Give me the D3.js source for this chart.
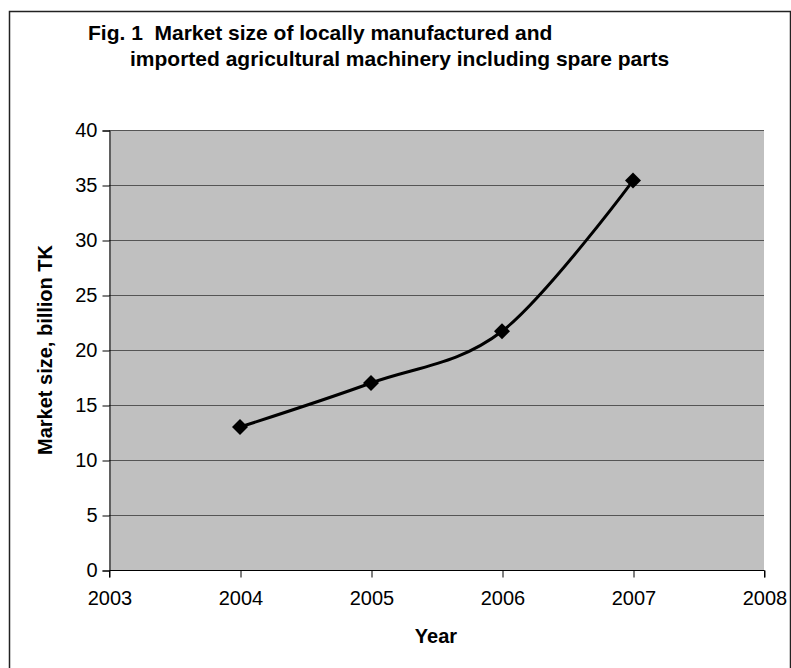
<!DOCTYPE html>
<html lang="en">
<head>
<meta charset="utf-8"/>
<script src="https://d3js.org/d3.v7.min.js"></script>
<style>
  body { margin: 0; background: #fff; }
  text { font-family: Arial, "Liberation Sans", sans-serif; white-space: pre; }
</style>
</head>
<body>
<svg width="791" height="668"></svg>
<script>
// data
const years = [2004, 2005, 2006, 2007];
const marketSize = [13.0, 17.0, 21.7, 35.4];
const xTicks = [2003, 2004, 2005, 2006, 2007, 2008];
const yTicks = [0, 5, 10, 15, 20, 25, 30, 35, 40];
const titleLines = ["Fig. 1  Market size of locally manufactured and",
                    "imported agricultural machinery including spare parts"];

const svg = d3.select("svg");
const plotL = 109, plotR = 764, plotT = 130, plotB = 570;

// outer frame
svg.append("rect")
  .attr("x", 9.5).attr("y", 11.5)
  .attr("width", 781).attr("height", 700)
  .attr("fill", "none").attr("stroke", "#222").attr("stroke-width", 1.5);

const x = d3.scaleLinear().domain([2003, 2008]).range([plotL, plotR]);
const y = d3.scaleLinear().domain([0, 40]).range([plotB, plotT]);

// plot area
svg.append("rect")
  .attr("x", plotL).attr("y", plotT)
  .attr("width", plotR - plotL).attr("height", plotB - plotT)
  .attr("fill", "#c0c0c0");

// grid
svg.append("g").selectAll("line")
  .data(yTicks.filter(d => d > 0))
  .join("line")
  .attr("x1", plotL).attr("x2", plotR)
  .attr("y1", d => y(d) + 0.5).attr("y2", d => y(d) + 0.5)
  .attr("stroke", "#555").attr("stroke-width", 1);

// axes
const yAxis = svg.append("g")
  .attr("transform", `translate(${plotL + 0.5},0.5)`)
  .call(d3.axisLeft(y).tickValues(yTicks).tickSize(7).tickPadding(5));
const xAxis = svg.append("g")
  .attr("transform", `translate(0.5,${plotB + 0.5})`)
  .call(d3.axisBottom(x).tickValues(xTicks).tickFormat(d3.format("d")).tickSize(7).tickPadding(13));

[yAxis, xAxis].forEach(g => {
  g.select(".domain").attr("stroke", "#000");
  g.selectAll(".tick line").attr("stroke", "#000");
  g.selectAll("text").attr("font-size", 20).attr("fill", "#000")
    .style("font-family", "Arial, 'Liberation Sans', sans-serif");
});
xAxis.select(".domain").attr("d", `M${plotL},7V0H${plotR}V7`);

// smoothed line
const pts = years.map((yr, i) => ({x: yr, y: marketSize[i]}));
const line = d3.line()
  .x(d => x(d.x))
  .y(d => y(d.y))
  .curve(d3.curveCardinal.tension(0));

svg.append("path")
  .attr("d", line(pts))
  .attr("fill", "none")
  .attr("stroke", "#000")
  .attr("stroke-width", 3);

svg.append("g").selectAll("path")
  .data(pts)
  .join("path")
  .attr("transform", d => `translate(${x(d.x)},${y(d.y)})`)
  .attr("d", "M0,-8L8,0L0,8L-8,0Z")
  .attr("fill", "#000");

// titles
svg.append("text")
  .attr("x", 88).attr("y", 40)
  .attr("font-size", 21).attr("font-weight", "bold")
  .text(titleLines[0]);
svg.append("text")
  .attr("x", 130).attr("y", 66)
  .attr("font-size", 21).attr("font-weight", "bold")
  .text(titleLines[1]);

svg.append("text")
  .attr("x", 436).attr("y", 643)
  .attr("text-anchor", "middle")
  .attr("font-size", 20).attr("font-weight", "bold")
  .text("Year");

svg.append("text")
  .attr("transform", `translate(52,${(plotT + plotB) / 2}) rotate(-90)`)
  .attr("text-anchor", "middle")
  .attr("font-size", 20).attr("font-weight", "bold")
  .text("Market size, billion TK");
</script>
</body>
</html>
